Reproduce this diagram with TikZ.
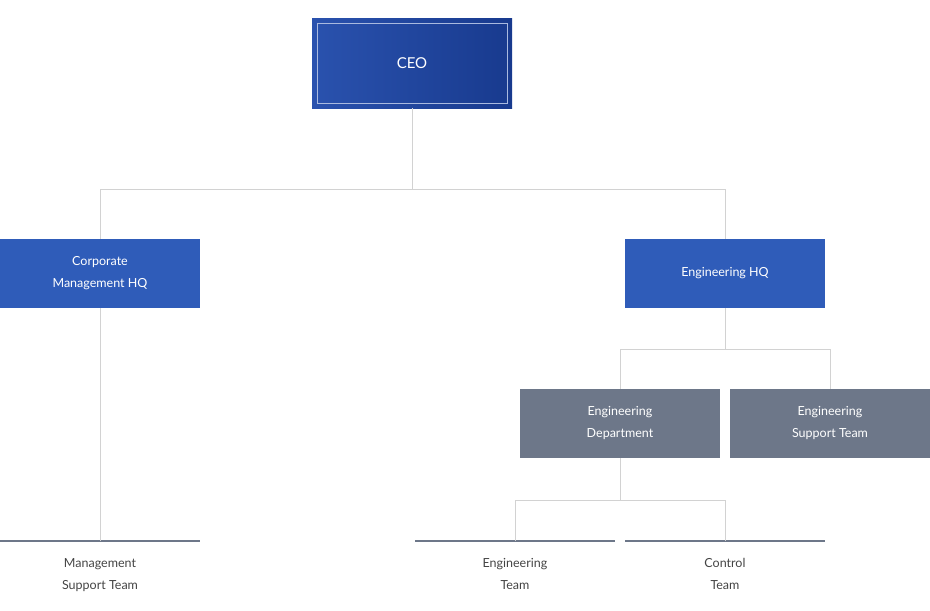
\documentclass[tikz,border=0pt]{standalone}
\usepackage{fontspec}
\setmainfont{Lato}
\usetikzlibrary{positioning}
\definecolor{ceoA}{HTML}{183A8E}
\definecolor{ceoB}{HTML}{2A52AE}
\definecolor{hqblue}{HTML}{2F5CB9}
\definecolor{deptgray}{HTML}{6D7789}
\definecolor{linkgray}{HTML}{D2D2D2}
\definecolor{textgray}{HTML}{444444}
\begin{document}
\begin{tikzpicture}[x=1pt,y=-1pt,
  box/.style={minimum width=200pt,minimum height=69pt,inner sep=0pt,text=white,align=center,font=\fontsize{12.5}{22}\selectfont},
  hq/.style={box,fill=hqblue},
  dept/.style={box,fill=deptgray},
  team/.style={text=textgray,align=center,font=\fontsize{12.5}{22}\selectfont,anchor=north},
  base/.style={draw=deptgray,line width=1.2pt},
  link/.style={draw=linkgray,line width=0.8pt}]
\useasboundingbox (0,0) rectangle (930,611);

\node[box,minimum height=90pt,left color=ceoB,right color=ceoA] (ceo) at (412,63) {\fontsize{15}{18}\selectfont CEO};
\draw[white!60!ceoB,line width=0.6pt] ([xshift=5pt,yshift=-5pt]ceo.north west) rectangle ([xshift=-5pt,yshift=5pt]ceo.south east);

\node[hq] (corp) at (100,273.5) {Corporate\\Management HQ};
\node[hq] (eng) at (725,273.5) {Engineering HQ};
\node[dept] (dept) at (620,423.5) {Engineering\\Department};
\node[dept] (sup) at (830,423.5) {Engineering\\Support Team};

\coordinate (mst) at (100,541);
\coordinate (et) at (515,541);
\coordinate (ct) at (725,541);
\draw[base] (0,541) -- (200,541);
\draw[base] (415,541) -- (615,541);
\draw[base] (625,541) -- (825,541);
\node[team] (mstl) at (100,555) {Management\\Support Team};
\node[team] (etl) at (515,555) {Engineering\\Team};
\node[team] (ctl) at (725,555) {Control\\Team};

% links
\draw[link] (ceo.south) -- ++(0,81) -| (corp.north);
\draw[link] (ceo.south) -- ++(0,81) -| (eng.north);
\draw[link] (corp.south) -- (mst);
\draw[link] (eng.south) -- ++(0,41) -| (dept.north);
\draw[link] (eng.south) -- ++(0,41) -| (sup.north);
\draw[link] (dept.south) -- ++(0,42) -| (et);
\draw[link] (dept.south) -- ++(0,42) -| (ct);
\end{tikzpicture}
\end{document}
